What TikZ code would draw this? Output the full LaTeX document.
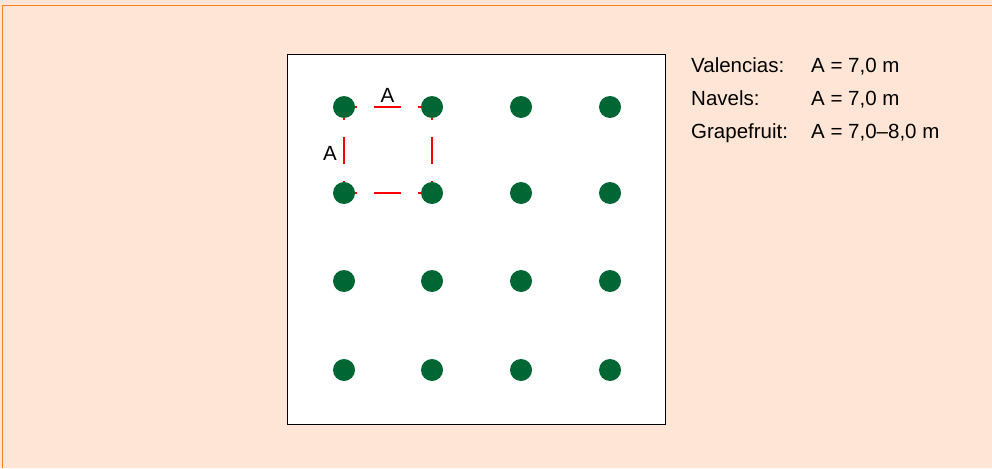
\documentclass[tikz,border=0pt]{standalone}
\usepackage{fontspec}
\setmainfont{Liberation Sans}
\definecolor{peach}{RGB}{255,229,214}
\definecolor{frameorange}{RGB}{250,130,30}
\definecolor{treegreen}{RGB}{0,102,51}
\begin{document}
\begin{tikzpicture}[x=1pt,y=-1pt,
  dot/.style={circle,fill=treegreen,draw=none,minimum size=22pt,inner sep=0pt},
  spacing/.style={red,line width=2.2pt,dash pattern=on 27pt off 17pt,dash phase=14pt},
  lbl/.style={font=\fontsize{20.5}{24}\selectfont,inner sep=0pt,anchor=base west},
  albl/.style={font=\fontsize{20.5}{24}\selectfont,inner sep=0pt,anchor=base}]
\useasboundingbox (0,0) rectangle (992,468);
\fill[peach] (0,0) rectangle (992,468);
\draw[frameorange,line width=1.8pt] (2.5,468) -- (2.5,5.5) -- (992,5.5);
\fill[white,draw=black,line width=1pt] (287,55) rectangle (665,424);
% dashed spacing square
\coordinate (c11) at (344,107);
\coordinate (c12) at (432,107);
\coordinate (c21) at (344,193);
\coordinate (c22) at (432,193);
\draw[spacing] (c11) -- (c12);
\draw[spacing] (c21) -- (c22);
\draw[spacing] (c11) -- (c21);
\draw[spacing] (c12) -- (c22);
% trees
\foreach \r/\y in {1/107,2/193,3/281,4/370}{
  \foreach \c/\x in {1/344,2/432,3/521,4/610}{
    \node[dot] (t\r\c) at (\x,\y) {};
  }
}
\node[albl] (atop) at (387.5,102.5) {A};
\node[albl] (aleft) at (330,160) {A};
% legend
\node[lbl] (l1) at (691,73) {Valencias:};
\node[lbl] (l2) at (691,105.5) {Navels:};
\node[lbl] (l3) at (691,138) {Grapefruit:};
\node[lbl] (v1) at (811,73) {A = 7,0 m};
\node[lbl] (v2) at (811,105.5) {A = 7,0 m};
\node[lbl] (v3) at (811,138) {A = 7,0–8,0 m};
\end{tikzpicture}
\end{document}
